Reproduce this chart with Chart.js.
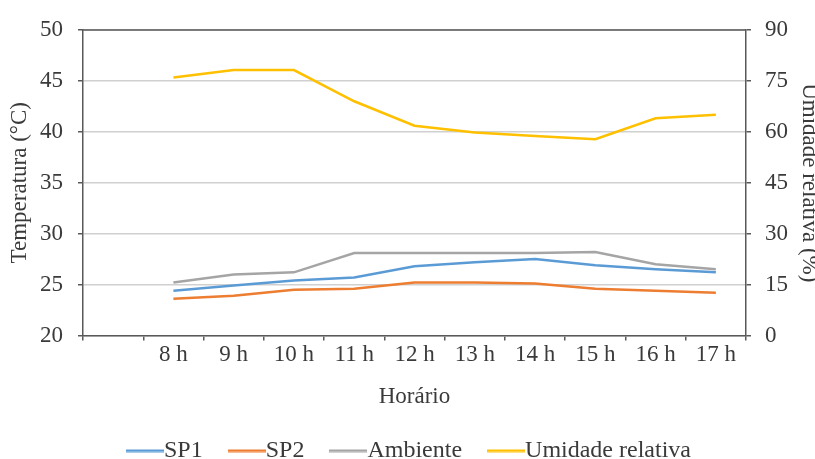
<!DOCTYPE html>
<html>
<head>
<meta charset="utf-8">
<script src="https://cdn.jsdelivr.net/npm/chart.js@4"></script>
<style>
  html, body { margin: 0; padding: 0; background: #fff; overflow: hidden; }
</style>
</head>
<body>
<canvas id="grafico" width="815" height="459"></canvas>
<script>
// horarios (a primeira categoria fica vazia, como no original)
const horarios = ['', '8 h', '9 h', '10 h', '11 h', '12 h', '13 h', '14 h', '15 h', '16 h', '17 h'];

const sp1 = [null, 24.4, 24.9, 25.4, 25.7, 26.8, 27.2, 27.5, 26.9, 26.5, 26.2];
const sp2 = [null, 23.6, 23.9, 24.5, 24.6, 25.2, 25.2, 25.1, 24.6, 24.4, 24.2];
const ambiente = [null, 25.2, 26.0, 26.2, 28.1, 28.1, 28.1, 28.1, 28.2, 27.0, 26.5];
const umidade = [null, 76.0, 78.2, 78.2, 69.0, 61.8, 59.8, 58.8, 57.8, 64.0, 65.0];

const fonte = { family: 'Liberation Serif', size: 23 };
const fonteLegenda = { family: 'Liberation Serif', size: 24 };
const corTexto = '#3a3a3a';
const corEixo = '#595959';

// tracinho da legenda, encostado no texto
function tracoLegenda(cor) {
    const c = document.createElement('canvas');
    c.width = 38;
    c.height = 4;
    const ctx = c.getContext('2d');
    ctx.fillStyle = cor;
    ctx.fillRect(0, 1, 38, 2.5);
    return c;
}

// linha de cima da area do grafico
const moldura = {
    id: 'moldura',
    afterDraw(chart) {
        const a = chart.chartArea;
        const ctx = chart.ctx;
        ctx.save();
        ctx.strokeStyle = corEixo;
        ctx.lineWidth = 1.5;
        ctx.beginPath();
        ctx.moveTo(a.left, a.top);
        ctx.lineTo(a.right, a.top);
        ctx.stroke();
        ctx.restore();
    }
};

function serie(label, data, cor, eixo) {
    return {
        label: label,
        data: data,
        borderColor: cor,
        backgroundColor: cor,
        pointStyle: tracoLegenda(cor),
        yAxisID: eixo
    };
}

new Chart(document.getElementById('grafico'), {
    type: 'line',
    data: {
        labels: horarios,
        datasets: [
            serie('SP1', sp1, '#5b9bd5', 'y'),
            serie('SP2', sp2, '#ed7d31', 'y'),
            serie('Ambiente', ambiente, '#a5a5a5', 'y'),
            serie('Umidade relativa', umidade, '#ffc000', 'y1')
        ]
    },
    options: {
        responsive: false,
        animation: false,
        datasets: { line: { borderWidth: 2.5, pointRadius: 0, pointHoverRadius: 0, tension: 0 } },
        layout: { padding: { top: 30, left: 0, right: 0, bottom: -13.5 } },
        plugins: {
            tooltip: { enabled: false },
            legend: {
                position: 'bottom',
                fullSize: false,
                labels: {
                    font: fonteLegenda,
                    color: corTexto,
                    usePointStyle: true,
                    pointStyleWidth: 14,
                    boxHeight: 10,
                    padding: 37
                }
            }
        },
        scales: {
            x: {
                offset: true,
                grid: { offset: true, drawOnChartArea: false, tickLength: 5, color: corEixo, lineWidth: 1.5 },
                border: { color: corEixo, width: 1.5 },
                ticks: { font: fonte, color: corTexto, padding: 1, maxRotation: 0, autoSkip: false },
                title: { display: true, text: 'Horário', font: fonte, color: corTexto, padding: { top: 0, bottom: -8.8 } },
                afterFit(scale) { scale.height = 66; }
            },
            y: {
                position: 'left',
                min: 20, max: 50,
                ticks: { stepSize: 5, font: fonte, color: corTexto, padding: 15 },
                grid: { color: '#d0d0d0', lineWidth: 1.5, tickLength: 5, tickColor: corEixo },
                border: { color: corEixo, width: 1.5 },
                title: { display: true, text: 'Temperatura (°C)', font: fonte, color: corTexto, padding: { top: 6, bottom: 0 } },
                afterFit(scale) { scale.width = 83; }
            },
            y1: {
                position: 'right',
                min: 0, max: 90,
                ticks: { stepSize: 15, font: fonte, color: corTexto, padding: 14 },
                grid: { drawOnChartArea: false, tickLength: 5, color: corEixo, lineWidth: 1.5 },
                border: { color: corEixo, width: 1.5 },
                title: { display: true, text: 'Umidade relativa (%)', font: fonte, color: corTexto, padding: { top: -7.8, bottom: 0 } },
                afterFit(scale) { scale.width = 69; }
            }
        }
    },
    plugins: [moldura]
});
</script>
</body>
</html>
